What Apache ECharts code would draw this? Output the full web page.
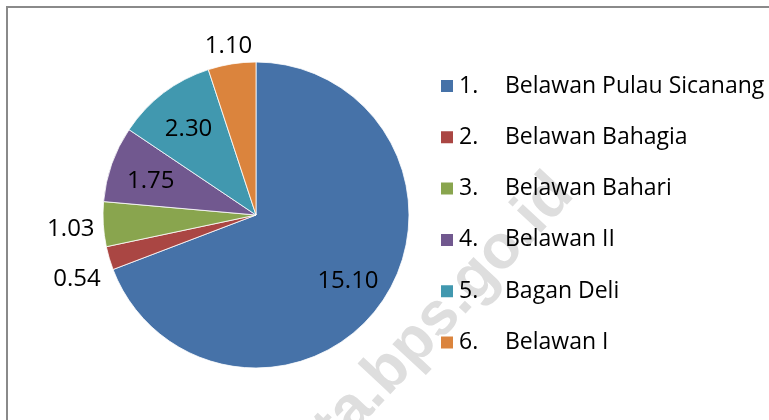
<!DOCTYPE html>
<html>
<head>
<meta charset="utf-8">
<script src="https://cdn.jsdelivr.net/npm/echarts@6/dist/echarts.min.js"></script>
<style>
  html, body { margin: 0; padding: 0; background: #fff; }
  #main { width: 769px; height: 420px; }
</style>
</head>
<body>
<div id="main"></div>
<script>
// ports and their values
var ports = ['Belawan Pulau Sicanang', 'Belawan Bahagia', 'Belawan Bahari', 'Belawan II', 'Bagan Deli', 'Belawan I'];
var values = [15.10, 0.54, 1.03, 1.75, 2.30, 1.10];
var colors = ['#4672A8', '#AA4643', '#89A54E', '#71588F', '#4198AF', '#DB843D'];

var cx = 256, cy = 215, R = 153;
var total = values.reduce(function (a, b) { return a + b; }, 0);

// label spots: inside for big slices, just outside the rim for small ones,
// small ones on the same side pushed apart so they don't crowd
function labelSpots(fontSize) {
  var spots = [];
  var start = 0;
  values.forEach(function (v, i) {
    var a = (start + v / 2) / total * 2 * Math.PI;
    start += v;
    var s = Math.sin(a), c = Math.cos(a);
    var w = v.toFixed(2).length * fontSize * 0.5;
    var inside = v / total > 0.06;
    var d = inside ? R * 0.73 : R + 8 + (w / 2) * Math.abs(s) + 9 * Math.abs(c);
    spots.push({ x: cx + s * d, y: cy - c * d + 3, inside: inside, left: s < 0 });
  });
  for (var i = 0; i < spots.length; i++) {
    for (var j = 0; j < spots.length; j++) {
      var p = spots[i], q = spots[j];
      if (i === j || p.inside || q.inside || p.left !== q.left) continue;
      if (q.y > p.y && q.y - p.y < 50) q.y = p.y + 50;
    }
  }
  return spots;
}
var spots = labelSpots(24);

var chart = echarts.init(document.getElementById('main'));

var option = {
  backgroundColor: '#fff',
  animation: false,
  color: colors,
  textStyle: { fontFamily: 'Open Sans' },
  graphic: [
    {
      type: 'rect',
      z: 0,
      shape: { x: 7, y: 7, width: 800, height: 500 },
      style: { fill: 'none', stroke: '#8a8a8a', lineWidth: 2 }
    },
    {
      type: 'text',
      z: 0,
      x: 563,
      y: 184,
      rotation: 47 * Math.PI / 180,
      style: {
        text: 'medankota.bps.go.id',
        fontFamily: 'Liberation Sans',
        fontWeight: 'bold',
        fontSize: 62,
        fill: '#dedede',
        align: 'right',
        verticalAlign: 'middle'
      }
    }
  ],
  legend: {
    orient: 'vertical',
    left: 434,
    top: 68,
    icon: 'rect',
    itemWidth: 14,
    itemHeight: 14,
    itemGap: 25.3,
    data: ports,
    formatter: function (name) {
      return '{n|' + (ports.indexOf(name) + 1) + '.}{t|' + name + '}';
    },
    textStyle: {
      color: '#000',
      fontFamily: 'Open Sans',
      fontSize: 23,
      lineHeight: 26,
      rich: {
        n: { fontFamily: 'Open Sans', fontSize: 23, width: 46, color: '#000' },
        t: { fontFamily: 'Open Sans', fontSize: 23, color: '#000' }
      }
    }
  },
  series: [
    {
      type: 'pie',
      z: 2,
      center: [cx, cy],
      radius: R,
      startAngle: 90,
      clockwise: true,
      avoidLabelOverlap: false,
      itemStyle: { borderColor: '#fff', borderWidth: 0.8 },
      label: {
        show: true,
        position: 'inside',
        color: '#000',
        fontFamily: 'Open Sans',
        fontSize: 24,
        formatter: function (p) { return p.value.toFixed(2); }
      },
      labelLine: { show: false },
      labelLayout: function (p) {
        var sp = spots[p.dataIndex];
        return { x: sp.x, y: sp.y, align: 'center', verticalAlign: 'middle' };
      },
      data: ports.map(function (n, i) { return { name: n, value: values[i] }; })
    }
  ]
};

chart.setOption(option);
</script>
</body>
</html>
